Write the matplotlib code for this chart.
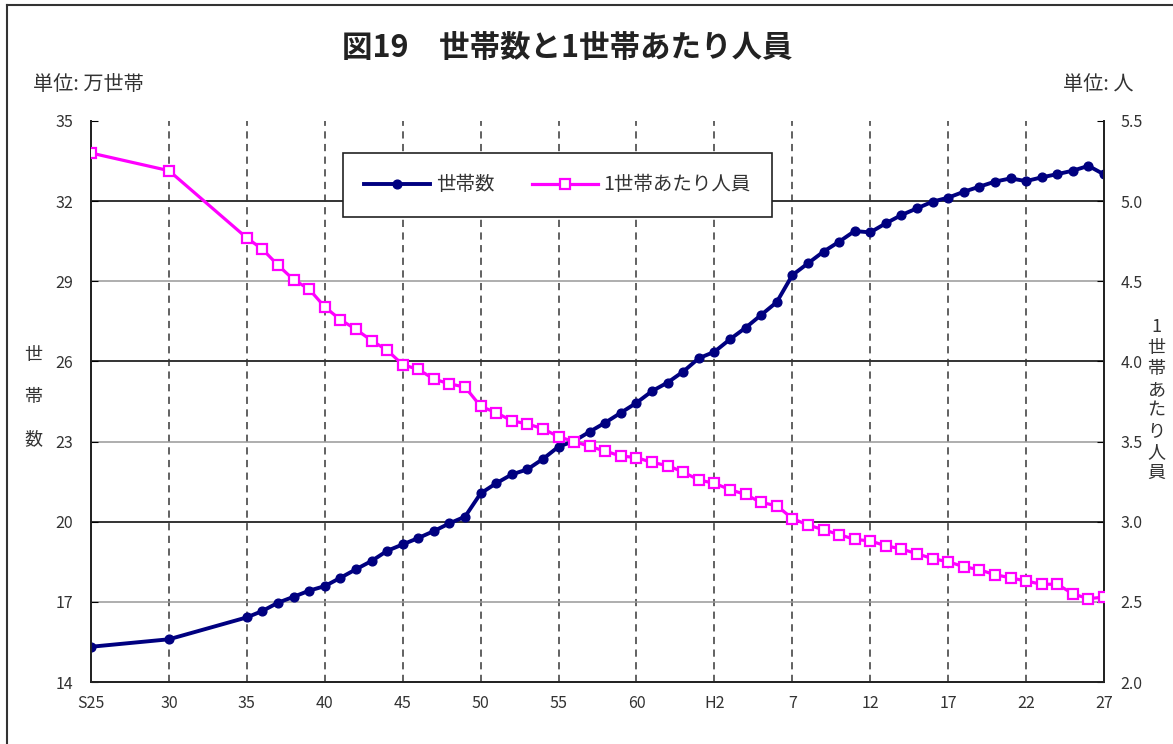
import matplotlib
matplotlib.use("Agg")
import matplotlib.pyplot as plt
from matplotlib.lines import Line2D

plt.rcParams["font.family"] = ["Noto Sans CJK JP", "DejaVu Sans"]

# 年次: 昭和25, 30, 35年以降は毎年 (西暦で保持)
years = [1950, 1955,
         1960, 1961, 1962, 1963, 1964, 1965, 1966, 1967, 1968, 1969,
         1970, 1971, 1972, 1973, 1974, 1975, 1976, 1977, 1978, 1979,
         1980, 1981, 1982, 1983, 1984, 1985, 1986, 1987, 1988, 1989,
         1990, 1991, 1992, 1993, 1994, 1995, 1996, 1997, 1998, 1999,
         2000, 2001, 2002, 2003, 2004, 2005, 2006, 2007, 2008, 2009,
         2010, 2011, 2012, 2013, 2014, 2015]

# 世帯数 (万世帯)
households = [15.32, 15.60,
              16.42, 16.66, 16.97, 17.19, 17.42, 17.59, 17.90, 18.22, 18.53, 18.91,
              19.15, 19.39, 19.65, 19.94, 20.19, 21.06, 21.44, 21.77, 21.96, 22.35,
              22.81, 23.02, 23.37, 23.71, 24.08, 24.45, 24.89, 25.21, 25.62, 26.12,
              26.36, 26.83, 27.26, 27.74, 28.22, 29.23, 29.67, 30.11, 30.48, 30.88,
              30.83, 31.17, 31.48, 31.73, 31.98, 32.13, 32.35, 32.54, 32.73, 32.85,
              32.75, 32.89, 33.01, 33.14, 33.32, 33.00]

# 1世帯あたり人員 (人)
persons = [5.30, 5.19,
           4.77, 4.70, 4.60, 4.51, 4.45, 4.34, 4.26, 4.20, 4.13, 4.07,
           3.98, 3.95, 3.89, 3.86, 3.84, 3.72, 3.68, 3.63, 3.61, 3.58,
           3.53, 3.50, 3.47, 3.44, 3.41, 3.40, 3.37, 3.35, 3.31, 3.26,
           3.24, 3.20, 3.17, 3.12, 3.10, 3.02, 2.98, 2.95, 2.92, 2.89,
           2.88, 2.85, 2.83, 2.80, 2.77, 2.75, 2.72, 2.70, 2.67, 2.65,
           2.63, 2.61, 2.61, 2.55, 2.52, 2.53]

tick_years = [1950, 1955, 1960, 1965, 1970, 1975, 1980, 1985, 1990, 1995, 2000, 2005, 2010, 2015]
tick_labels = ["S25", "30", "35", "40", "45", "50", "55", "60", "H2", "7", "12", "17", "22", "27"]

left_ticks = [14, 17, 20, 23, 26, 29, 32, 35]
right_ticks = [2.0, 2.5, 3.0, 3.5, 4.0, 4.5, 5.0, 5.5]

navy = "#000080"
magenta = "#FF00FF"
txt = "#333333"

fig = plt.figure(figsize=(11.73, 7.44), dpi=100)
ax = fig.add_axes([0.0776, 0.0833, 0.8636, 0.7541])
ax2 = ax.twinx()

# grid: dashed verticals at inner ticks, alternating dark / light horizontals
for yr in tick_years[1:-1]:
    ax.axvline(yr, color="#555555", lw=1.3, ls=(0, (4, 3)), zorder=1)
for v in left_ticks[1:-1]:
    dark = v in (20, 26, 32)
    ax.axhline(v, color="#333333" if dark else "#999999", lw=1.4 if dark else 1.1, zorder=1)

ax.plot(years, households, color=navy, lw=2.8, marker="o", ms=6.3, zorder=3, label="世帯数")
ax2.plot(years, persons, color=magenta, lw=2.3, marker="s", ms=6.5, mfc="white",
         mec=magenta, mew=1.6, zorder=3, label="1世帯あたり人員")

ax.set_xlim(1950, 2015)
ax.set_ylim(14, 35)
ax2.set_ylim(2.0, 5.5)
ax.set_xticks(tick_years)
ax.set_xticklabels(tick_labels)
ax.set_yticks(left_ticks)
ax.set_yticklabels([str(v) for v in left_ticks])
ax2.set_yticks(right_ticks)
ax2.set_yticklabels([f"{v:.1f}" for v in right_ticks])

ax.tick_params(axis="x", length=0, pad=9, labelsize=11.5, labelcolor=txt)
ax.tick_params(axis="y", direction="in", length=5, pad=13, labelsize=11.5, labelcolor=txt)
ax2.tick_params(axis="y", direction="in", length=5, pad=12, labelsize=11.5, labelcolor=txt)
for a in (ax, ax2):
    a.spines["top"].set_visible(False)
    for s in ("left", "right", "bottom"):
        a.spines[s].set_linewidth(1.3)
        a.spines[s].set_color("#222222")

handles = ax.get_lines()[-1:] + ax2.get_lines()
leg = ax2.legend(handles=handles, labels=[h.get_label() for h in handles], ncol=2,
                 loc="upper center", bbox_to_anchor=(0.4605, 0.943), fontsize=14,
                 frameon=True, fancybox=False, edgecolor="#222222", framealpha=1,
                 handlelength=3.4, handletextpad=0.3, columnspacing=1.9,
                 borderpad=1.1, borderaxespad=0, labelcolor=txt)
leg.get_frame().set_linewidth(1.2)
leg.set_zorder(10)

fig.text(0.484, 0.935, "図19　世帯数と1世帯あたり人員", ha="center", va="center",
         fontsize=22, fontweight="bold", color="#222222")
fig.text(0.028, 0.886, "単位: 万世帯", ha="left", va="center", fontsize=14.5, color=txt)
fig.text(0.966, 0.886, "単位: 人", ha="right", va="center", fontsize=14.5, color=txt)

for i, ch in enumerate("世帯数"):
    fig.text(0.028, 1 - (355 + i * 42) / 744, ch, ha="center", va="center",
             fontsize=13, color=txt)
fig.text(0.986, 1 - 400 / 744, "\n".join("1世帯あたり人員"), ha="center", va="center",
         fontsize=13, color=txt, linespacing=1.2)

# outer frame (left and top edges)
fig.add_artist(Line2D([7 / 1173, 7 / 1173], [0, 1 - 5 / 744], color="#333333", lw=1.5,
                      transform=fig.transFigure))
fig.add_artist(Line2D([7 / 1173, 1], [1 - 5 / 744, 1 - 5 / 744], color="#333333", lw=1.5,
                      transform=fig.transFigure))

fig.savefig("out.png", dpi=100)
plt.close(fig)
